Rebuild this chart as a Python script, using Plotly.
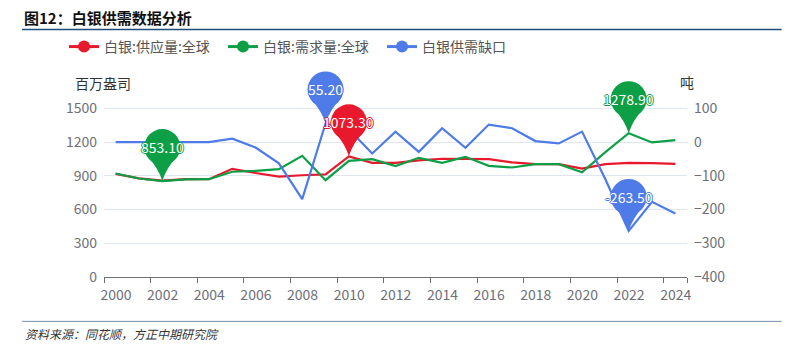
import plotly.graph_objects as go

years = list(range(2000, 2025))
supply = [918, 878, 857, 870, 870, 962, 925, 893, 905, 912, 1073.3, 1015, 1015, 1037, 1052,
          1048, 1048, 1020, 1004, 1004, 965, 1004, 1015, 1013, 1006]
demand = [921, 876, 853.1, 868, 870, 936, 944, 959, 1078, 861, 1033, 1048, 986, 1060, 1015,
          1069, 989, 974, 1004, 1004, 932, 1110, 1278.9, 1197, 1218]
gap = [0, 0, 0, 0, 0, 10, -16, -63, -169, 55.2, 38, -34, 31, -29, 41,
       -17, 52, 41, 3, -4, 31, -110, -263.5, -177, -212]
left_ticks = [0, 300, 600, 900, 1200, 1500]
right_ticks = [-400, -300, -200, -100, 0, 100]

names = ["白银:供应量:全球", "白银:需求量:全球", "白银供需缺口"]
RED, GREEN, BLUE = "#E8192C", "#0C9F45", "#4E7BE8"
FONT = "Noto Sans CJK SC"

fig = go.Figure()
series = [(names[0], supply, RED, "y"), (names[1], demand, GREEN, "y"), (names[2], gap, BLUE, "y2")]
for name, vals, color, ax in series:
    fig.add_trace(go.Scatter(x=years, y=vals, mode="lines", name=name, legendgroup=name,
                             line=dict(color=color, width=2.2), yaxis=ax, showlegend=False))
for name, vals, color, ax in series:
    fig.add_trace(go.Scatter(x=[None], y=[None], mode="lines+markers", name=name, legendgroup=name,
                             line=dict(color=color, width=3), marker=dict(size=12, color=color),
                             yaxis=ax))


def add_pin(xv, yv, color, yref):
    common = dict(xref="x", yref=yref, xsizemode="pixel", ysizemode="pixel",
                  xanchor=xv, yanchor=yv, fillcolor=color, line=dict(width=0), layer="above")
    fig.add_shape(type="path", path="M -15 25 Q -4 13 0 0 Q 4 13 15 25 Z", **common)
    fig.add_shape(type="circle", x0=-18, x1=18, y0=16, y1=52, **common)
    sh = ", ".join(f"{dx}px {dy}px 0 {color}" for dx, dy in [(1, 0), (-1, 0), (0, 1), (0, -1)])
    fig.add_annotation(x=xv, y=yv, xref="x", yref=yref, text=f"{yv:.2f}", showarrow=False,
                       yshift=34, font=dict(family=FONT, size=14, color="white", shadow=sh))


def idx_max(v):
    return max(range(len(v)), key=lambda i: v[i])


def idx_min(v):
    return min(range(len(v)), key=lambda i: v[i])


i = idx_max(gap); add_pin(years[i], gap[i], BLUE, "y2")
i = idx_min(gap); add_pin(years[i], gap[i], BLUE, "y2")
i = idx_max(supply); add_pin(years[i], supply[i], RED, "y")
i = idx_min(demand); add_pin(years[i], demand[i], GREEN, "y")
i = idx_max(demand); add_pin(years[i], demand[i], GREEN, "y")

tick_years = years[::2]
tickvals = [y - 0.5 for y in tick_years] + [years[-1] + 0.5]
ticktext = [str(y) for y in tick_years] + [""]

W, H = 805, 351
L, R, B = 104, 117.7, 74.3
GRID_TOP, PLOT_TOP = 108.3, 60          # pixel rows: top gridline, top of (invisible) plot area
T = PLOT_TOP
pw, ph = W - L - R, H - T - B
grid_h = H - B - GRID_TOP
ext = ph / grid_h                        # extend ranges so pins above top gridline are not clipped
left_range = [left_ticks[0], left_ticks[0] + (left_ticks[-1] - left_ticks[0]) * ext]
right_range = [right_ticks[0], right_ticks[0] + (right_ticks[-1] - right_ticks[0]) * ext]


def px(x):
    return (x - L) / pw


def py(y):
    return (H - B - y) / ph


fig.update_layout(
    width=W, height=H, margin=dict(l=L, r=R, t=T, b=B, autoexpand=False),
    paper_bgcolor="white", plot_bgcolor="white",
    font=dict(family=FONT, size=14, color="#6E7079"),
    xaxis=dict(range=[years[0] - 0.5, years[-1] + 0.5], tickvals=tickvals, ticktext=ticktext,
               ticklabelshift=round(pw / len(years) / 2), ticks="outside", ticklen=5, tickcolor="#6E7079",
               showline=True, linecolor="#6E7079", linewidth=1, showgrid=False, zeroline=False,
               tickfont=dict(size=14, color="#6E7079")),
    yaxis=dict(range=left_range, tickvals=left_ticks, showgrid=True, gridcolor="#E0E6F1", zeroline=False,
               ticks="", ticklabelstandoff=6, tickfont=dict(size=14, color="#6E7079")),
    yaxis2=dict(range=right_range, tickvals=right_ticks, overlaying="y", side="right", showgrid=False,
                zeroline=False, ticks="", ticklabelstandoff=6, tickfont=dict(size=14, color="#6E7079")),
    legend=dict(orientation="h", x=px(64), y=py(47), xanchor="left", yanchor="middle",
                font=dict(size=14, color="#555555"), itemwidth=30, entrywidth=114,
                bgcolor="rgba(0,0,0,0)"),
    showlegend=True,
)

fig.add_annotation(text="图12：白银供需数据分析", xref="paper", yref="paper", x=px(22), y=py(18),
                   xanchor="left", yanchor="middle", showarrow=False,
                   font=dict(family=FONT, size=15, color="#111111", weight="bold"))
fig.add_shape(type="line", xref="paper", yref="paper", x0=px(22), x1=px(782), y0=py(29.5), y1=py(29.5),
              line=dict(color="#1F4E79", width=1.5))
fig.add_shape(type="line", xref="paper", yref="paper", x0=px(22), x1=px(782), y0=py(321), y1=py(321),
              line=dict(color="#7593B0", width=1))
fig.add_annotation(text="资料来源：同花顺，方正中期研究院", xref="paper", yref="paper", x=px(23), y=py(333),
                   xanchor="left", yanchor="middle", showarrow=False,
                   font=dict(family=FONT, size=12, color="#333333", style="italic"))
fig.add_annotation(text="百万盎司", xref="paper", yref="paper", x=px(103), y=py(83),
                   xanchor="center", yanchor="middle", showarrow=False,
                   font=dict(family=FONT, size=14, color="#333333"))
fig.add_annotation(text="吨", xref="paper", yref="paper", x=px(687), y=py(82),
                   xanchor="center", yanchor="middle", showarrow=False,
                   font=dict(family=FONT, size=14, color="#333333"))

fig.write_html("out.html")
